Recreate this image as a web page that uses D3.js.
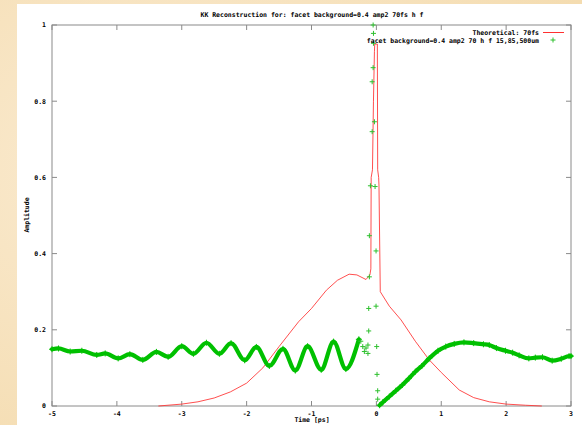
<!DOCTYPE html>
<html><head><meta charset="utf-8">
<script src="https://cdn.jsdelivr.net/npm/d3@7"></script>
<style>
html,body{margin:0;padding:0;background:#f6e3c3;overflow:hidden;}
svg{display:block;}
text{font-family:"DejaVu Sans Mono",monospace;font-weight:bold;fill:#000;}
</style></head>
<body><div id="chart"></div>
<script>
// ---- data ----
const title = "KK Reconstruction for: facet background=0.4 amp2 70fs h f";
const xLabel = "Time [ps]";
const yLabel = "Amplitude";
const legendTheory = "Theoretical: 70fs";
const legendMeasured = "facet background=0.4 amp2 70 h f 15,85,500um";
const xTicks = [-5,-4,-3,-2,-1,0,1,2,3];
const xTickLabels = ["-5","-4","-3","-2","-1","0","1","2","3"];
const yTicks = [0,0.2,0.4,0.6,0.8,1];
const yTickLabels = ["0","0.2","0.4","0.6","0.8","1"];

// theoretical curve
const theoryT = [-3.36,-3.0,-2.75,-2.5,-2.25,-2.0,-1.75,-1.5,-1.2,-1.0,-0.77,-0.6,-0.42,-0.3,-0.16,-0.1,-0.085,-0.08,-0.06,-0.045,-0.03,-0.025,0.015,0.02,0.035,0.04,0.06,0.2,0.38,0.6,0.815,1.0,1.277,1.5,1.74,2.0,2.3,2.55];
const theoryV = [0,0.005,0.011,0.021,0.037,0.06,0.1,0.156,0.221,0.256,0.304,0.33,0.346,0.344,0.332,0.344,0.36,0.60,0.62,0.80,0.93,0.95,0.95,0.62,0.60,0.58,0.30,0.262,0.226,0.17,0.121,0.088,0.042,0.022,0.011,0.005,0.002,0];

// reconstruction, left band
const bandLeftT = [-5.0,-4.9,-4.72,-4.54,-4.31,-4.18,-3.98,-3.8,-3.6,-3.39,-3.21,-3.0,-2.82,-2.62,-2.42,-2.24,-2.03,-1.85,-1.65,-1.44,-1.25,-1.06,-0.85,-0.66,-0.47,-0.27];
const bandLeftV = [0.149,0.151,0.143,0.145,0.134,0.138,0.125,0.136,0.121,0.142,0.129,0.157,0.137,0.166,0.137,0.165,0.120,0.155,0.105,0.150,0.093,0.157,0.095,0.169,0.097,0.175];
// reconstruction, right band
const bandRightT = [0.05,0.1,0.2,0.3,0.4,0.5,0.6,0.7,0.815,0.95,1.07,1.2,1.35,1.5,1.65,1.74,1.85,1.99,2.1,2.2,2.35,2.45,2.56,2.71,2.85,2.97,3.0];
const bandRightV = [0.002,0.01,0.025,0.04,0.055,0.072,0.09,0.105,0.125,0.145,0.156,0.163,0.167,0.165,0.162,0.160,0.152,0.145,0.140,0.133,0.125,0.127,0.128,0.119,0.124,0.131,0.131];
// reconstruction, scattered points near t=0
const scatterT = [-0.24,-0.21,-0.185,-0.16,-0.13,-0.05,-0.045,-0.045,-0.05,-0.065,-0.03,-0.065,-0.092,-0.02,-0.108,-0.005,-0.108,-0.118,-0.005,-0.118,0.005,-0.13,0.01,0.02,0.02];
const scatterV = [0.17,0.156,0.143,0.152,0.138,1.0,0.978,0.952,0.888,0.851,0.746,0.72,0.578,0.576,0.447,0.407,0.339,0.256,0.262,0.197,0.156,0.16,0.083,0.04,0.018];

// ---- layout ----
const W = 582, H = 425;
const L = 52, R = 571, T = 25, B = 406;
const svg = d3.select("#chart").append("svg").attr("width", W).attr("height", H);

// parchment background
const defs = svg.append("defs");
const rg = defs.append("radialGradient").attr("id","parch").attr("cx","30%").attr("cy","40%").attr("r","80%");
rg.append("stop").attr("offset","0%").attr("stop-color","#fbecd3");
rg.append("stop").attr("offset","100%").attr("stop-color","#f4dcb0");
svg.append("rect").attr("width",W).attr("height",H).attr("fill","url(#parch)");
svg.append("rect").attr("x",17).attr("y",4).attr("width",W-17).attr("height",H-4).attr("fill","#fff");

const x = d3.scaleLinear().domain([-5,3]).range([L,R]);
const y = d3.scaleLinear().domain([0,1]).range([B,T]);

const axisColor = "#8a8a8a";
const fs = 6.5;

// ticks (gnuplot style, inward, mirrored)
const g = svg.append("g");
g.selectAll(".xt").data(xTicks).join("g").each(function(d){
  const s = d3.select(this);
  s.append("line").attr("x1",x(d)).attr("x2",x(d)).attr("y1",B).attr("y2",B-5).attr("stroke",axisColor);
  s.append("line").attr("x1",x(d)).attr("x2",x(d)).attr("y1",T).attr("y2",T+5).attr("stroke",axisColor);
});
g.selectAll(".yt").data(yTicks).join("g").each(function(d){
  const s = d3.select(this);
  s.append("line").attr("x1",L).attr("x2",L+5).attr("y1",y(d)).attr("y2",y(d)).attr("stroke",axisColor);
  s.append("line").attr("x1",R).attr("x2",R-5).attr("y1",y(d)).attr("y2",y(d)).attr("stroke",axisColor);
});

// tick labels
svg.selectAll(".xl").data(xTicks).join("text")
  .attr("x",d=>x(d)).attr("y",B+9.5).attr("text-anchor","middle").attr("font-size",fs)
  .text((d,i)=>xTickLabels[i]);
svg.selectAll(".yl").data(yTicks).join("text")
  .attr("x",L-6).attr("y",d=>y(d)+2.3).attr("text-anchor","end").attr("font-size",fs)
  .text((d,i)=>yTickLabels[i]);

// titles
svg.append("text").attr("x",312).attr("y",16.5).attr("text-anchor","middle").attr("font-size",fs).text(title);
svg.append("text").attr("x",312).attr("y",422).attr("text-anchor","middle").attr("font-size",fs).text(xLabel);
svg.append("text").attr("transform","translate(29,215) rotate(-90)").attr("text-anchor","middle").attr("font-size",fs).text(yLabel);

// frame
svg.append("rect").attr("x",L).attr("y",T).attr("width",R-L).attr("height",B-T)
  .attr("fill","none").attr("stroke",axisColor).attr("stroke-width",1);

const plot = svg.append("g");
const green = "#00c000";
const plusPath = s => `M${-s},0H${s}M0,${-s}V${s}`;

// theoretical line
const redLine = d3.line().x((d,i)=>x(theoryT[i])).y((d,i)=>y(theoryV[i]));
plot.append("path").attr("d",redLine(theoryT)).attr("fill","none").attr("stroke","#ff3030").attr("stroke-width",1).attr("opacity",0.85);

// reconstruction bands
function band(ts, vs){
  const ln = d3.line().x((d,i)=>x(ts[i])).y((d,i)=>y(vs[i])).curve(d3.curveMonotoneX);
  plot.append("path").attr("d",ln(ts)).attr("fill","none").attr("stroke",green)
    .attr("stroke-width",4.2).attr("stroke-linecap","round").attr("stroke-linejoin","round");
  plot.selectAll(null).data(ts).join("path")
    .attr("transform",(d,i)=>`translate(${x(d)},${y(vs[i])})`)
    .attr("d",plusPath(3)).attr("stroke",green).attr("stroke-width",1);
}
band(bandLeftT, bandLeftV);
band(bandRightT, bandRightV);

plot.selectAll(null).data(scatterT).join("path")
  .attr("transform",(d,i)=>`translate(${x(d)},${y(scatterV[i])})`)
  .attr("d",plusPath(2.5)).attr("stroke","#2ec02e").attr("stroke-width",1);

// legend
svg.append("text").attr("x",539).attr("y",35).attr("text-anchor","end").attr("font-size",fs).text(legendTheory);
svg.append("line").attr("x1",543).attr("x2",564).attr("y1",32.5).attr("y2",32.5).attr("stroke","#ff3030").attr("stroke-width",1);
svg.append("text").attr("x",539).attr("y",42.5).attr("text-anchor","end").attr("font-size",fs).text(legendMeasured);
svg.append("path").attr("transform","translate(553,40)").attr("d",plusPath(2.5)).attr("stroke","#2ec02e").attr("stroke-width",1);
</script>
</body></html>
